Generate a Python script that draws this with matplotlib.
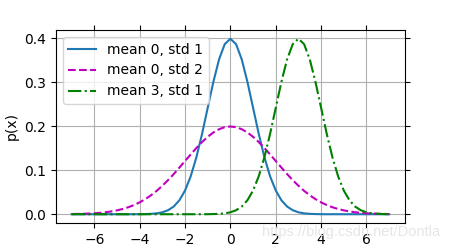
import numpy as np
import matplotlib
matplotlib.use('Agg')
import matplotlib.pyplot as plt

# x grid, step 0.25 from -7 to 7
x = np.arange(-7, 7.001, 0.25)

# mean 0, std 1
y_m0_s1 = [0, 0, 0, 0, 0, 0, 0, 0, 0, 0, 0, 0,
           0.0001, 0.0004, 0.0009, 0.0020, 0.0044, 0.0091, 0.0175, 0.0317,
           0.0540, 0.0863, 0.1295, 0.1826, 0.2420, 0.3011, 0.3521, 0.3867,
           0.3989,
           0.3867, 0.3521, 0.3011, 0.2420, 0.1826, 0.1295, 0.0863, 0.0540,
           0.0317, 0.0175, 0.0091, 0.0044, 0.0020, 0.0009, 0.0004, 0.0001,
           0, 0, 0, 0, 0, 0, 0, 0, 0, 0, 0, 0]

# mean 0, std 2
y_m0_s2 = [0.0004, 0.0007, 0.0010, 0.0015, 0.0022, 0.0032, 0.0045, 0.0064,
           0.0088, 0.0119, 0.0159, 0.0209, 0.0270, 0.0344, 0.0431, 0.0532,
           0.0648, 0.0775, 0.0913, 0.1060, 0.1210, 0.1360, 0.1506, 0.1641,
           0.1760, 0.1859, 0.1933, 0.1979,
           0.1995,
           0.1979, 0.1933, 0.1859, 0.1760, 0.1641, 0.1506, 0.1360, 0.1210,
           0.1060, 0.0913, 0.0775, 0.0648, 0.0532, 0.0431, 0.0344, 0.0270,
           0.0209, 0.0159, 0.0119, 0.0088, 0.0064, 0.0045, 0.0032, 0.0022,
           0.0015, 0.0010, 0.0007, 0.0004]

# mean 3, std 1
y_m3_s1 = [0, 0, 0, 0, 0, 0, 0, 0, 0, 0, 0, 0,
           0, 0, 0, 0, 0, 0, 0, 0, 0, 0, 0, 0,
           0.0001, 0.0004, 0.0009, 0.0020, 0.0044, 0.0091, 0.0175, 0.0317,
           0.0540, 0.0863, 0.1295, 0.1826, 0.2420, 0.3011, 0.3521, 0.3867,
           0.3989,
           0.3867, 0.3521, 0.3011, 0.2420, 0.1826, 0.1295, 0.0863, 0.0540,
           0.0317, 0.0175, 0.0091, 0.0044, 0.0020, 0.0009, 0.0004, 0.0001]

labels = ['mean 0, std 1', 'mean 0, std 2', 'mean 3, std 1']

fig = plt.figure(figsize=(4.5, 2.5), dpi=100)
ax = fig.add_axes([0.124, 0.108, 0.776, 0.772])

ax.plot(x, y_m0_s1, '-')
ax.plot(x, y_m0_s2, 'm--')
ax.plot(x, y_m3_s1, 'g-.')

ax.set_ylabel('p(x)')
ax.grid(True)
ax.tick_params(top=True, right=True, labeltop=False, labelright=False)
ax.legend(labels, loc='upper left')

# faint watermark, as in the source image
fig.text(0.978, 0.072, 'https://blog.csdn.net/Dontla', ha='right', va='center',
         fontsize=10.5, family='Liberation Sans', color='#e6e6e6')

fig.savefig('out.png', dpi=100)
